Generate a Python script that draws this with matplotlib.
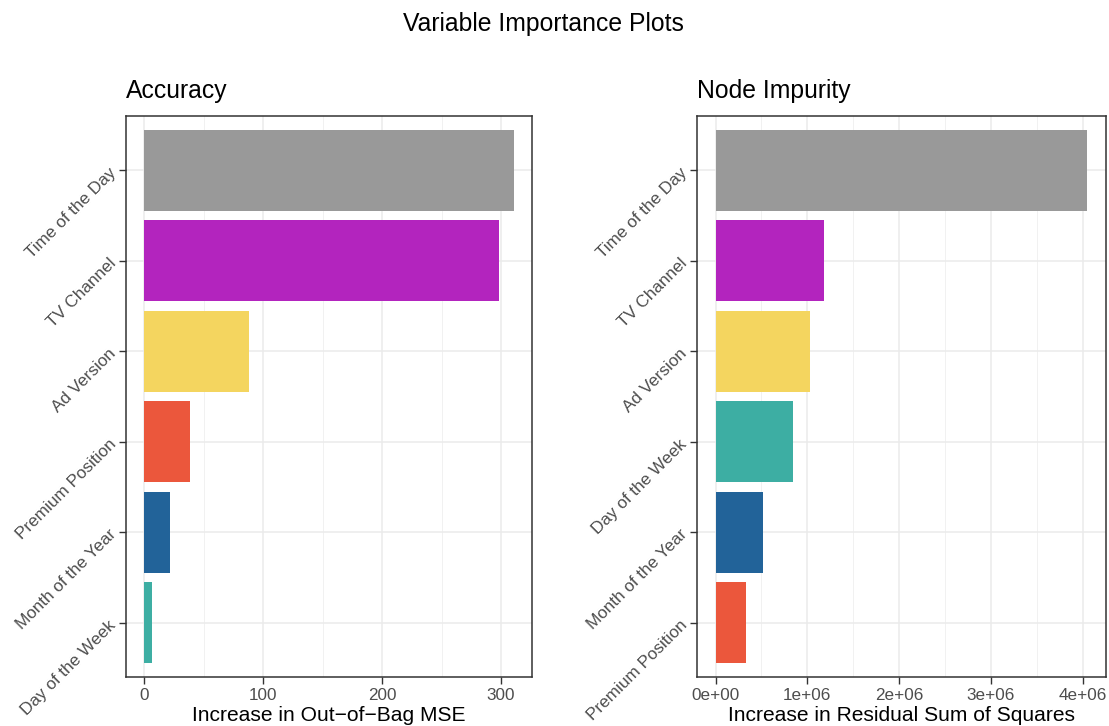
import matplotlib
matplotlib.use("Agg")
import matplotlib.pyplot as plt
from matplotlib.ticker import FixedLocator

plt.rcParams['font.family'] = ['Liberation Sans', 'DejaVu Sans']

# Data (top to bottom as displayed)
acc_labels = ["Time of the Day", "TV Channel", "Ad Version", "Premium Position",
              "Month of the Year", "Day of the Week"]
acc_values = [310.5, 298.5, 88, 38, 21.5, 6]
acc_colors = ["#999999", "#B324BE", "#F4D55F", "#EB573C", "#226399", "#3DAEA3"]

imp_labels = ["Time of the Day", "TV Channel", "Ad Version", "Day of the Week",
              "Month of the Year", "Premium Position"]
imp_values = [4.05e6, 1.18e6, 1.03e6, 0.84e6, 0.52e6, 0.33e6]
imp_colors = ["#999999", "#B324BE", "#F4D55F", "#3DAEA3", "#226399", "#EB573C"]

acc_xticks = [0, 100, 200, 300]
acc_xticklabels = ["0", "100", "200", "300"]
imp_xticks = [0, 1e6, 2e6, 3e6, 4e6]
imp_xticklabels = ["0e+00", "1e+06", "2e+06", "3e+06", "4e+06"]

W, H = 1109, 726
fig = plt.figure(figsize=(W / 100, H / 100), dpi=100)

def px_axes(x0, x1, y0, y1):
    return fig.add_axes([x0 / W, 1 - y1 / H, (x1 - x0) / W, (y1 - y0) / H])

def panel(ax, labels, values, colors, xticks, xticklabels, minor, title, xlabel):
    n = len(labels)
    ypos = list(range(n, 0, -1))
    ax.set_facecolor("white")
    ax.barh(ypos, values, height=0.9, color=colors, zorder=3)
    vmax = max(values)
    ax.set_xlim(-0.05 * vmax, 1.05 * vmax)
    ax.set_ylim(0.4, n + 0.6)
    ax.set_xticks(xticks)
    ax.set_xticklabels(xticklabels)
    ax.xaxis.set_minor_locator(FixedLocator(minor))
    ax.set_yticks(ypos)
    ax.set_yticklabels(labels, rotation=45, ha="right", va="center",
                       rotation_mode="anchor")
    ax.grid(True, which="major", color="#EBEBEB", linewidth=1.1, zorder=0)
    ax.grid(True, which="minor", axis="x", color="#F1F1F1", linewidth=0.7, zorder=0)
    ax.set_axisbelow(True)
    for s in ax.spines.values():
        s.set_color("#333333")
        s.set_linewidth(1.1)
    ax.tick_params(axis="both", which="major", length=5, width=1.0, color="#333333",
                   labelcolor="#4D4D4D", labelsize=12.3)
    ax.tick_params(axis="x", which="minor", length=0)
    ax.tick_params(axis="x", pad=3)
    ax.tick_params(axis="y", pad=4)
    ax.set_title(title, loc="left", fontsize=17.8, color="black", pad=13)
    ax.set_xlabel(xlabel, fontsize=15.1, color="black", labelpad=2)

ax1 = px_axes(126, 532, 116, 677)
panel(ax1, acc_labels, acc_values, acc_colors, acc_xticks, acc_xticklabels,
      [50, 150, 250], "Accuracy", "Increase in Out\u2212of\u2212Bag MSE")

ax2 = px_axes(697, 1106, 116, 677)
panel(ax2, imp_labels, imp_values, imp_colors, imp_xticks, imp_xticklabels,
      [0.5e6, 1.5e6, 2.5e6, 3.5e6], "Node Impurity", "Increase in Residual Sum of Squares")

fig.text(543 / W, 1 - 24 / H, "Variable Importance Plots", ha="center", va="center",
         fontsize=17.8, color="black")

fig.savefig("out.png", dpi=100, facecolor="white")
